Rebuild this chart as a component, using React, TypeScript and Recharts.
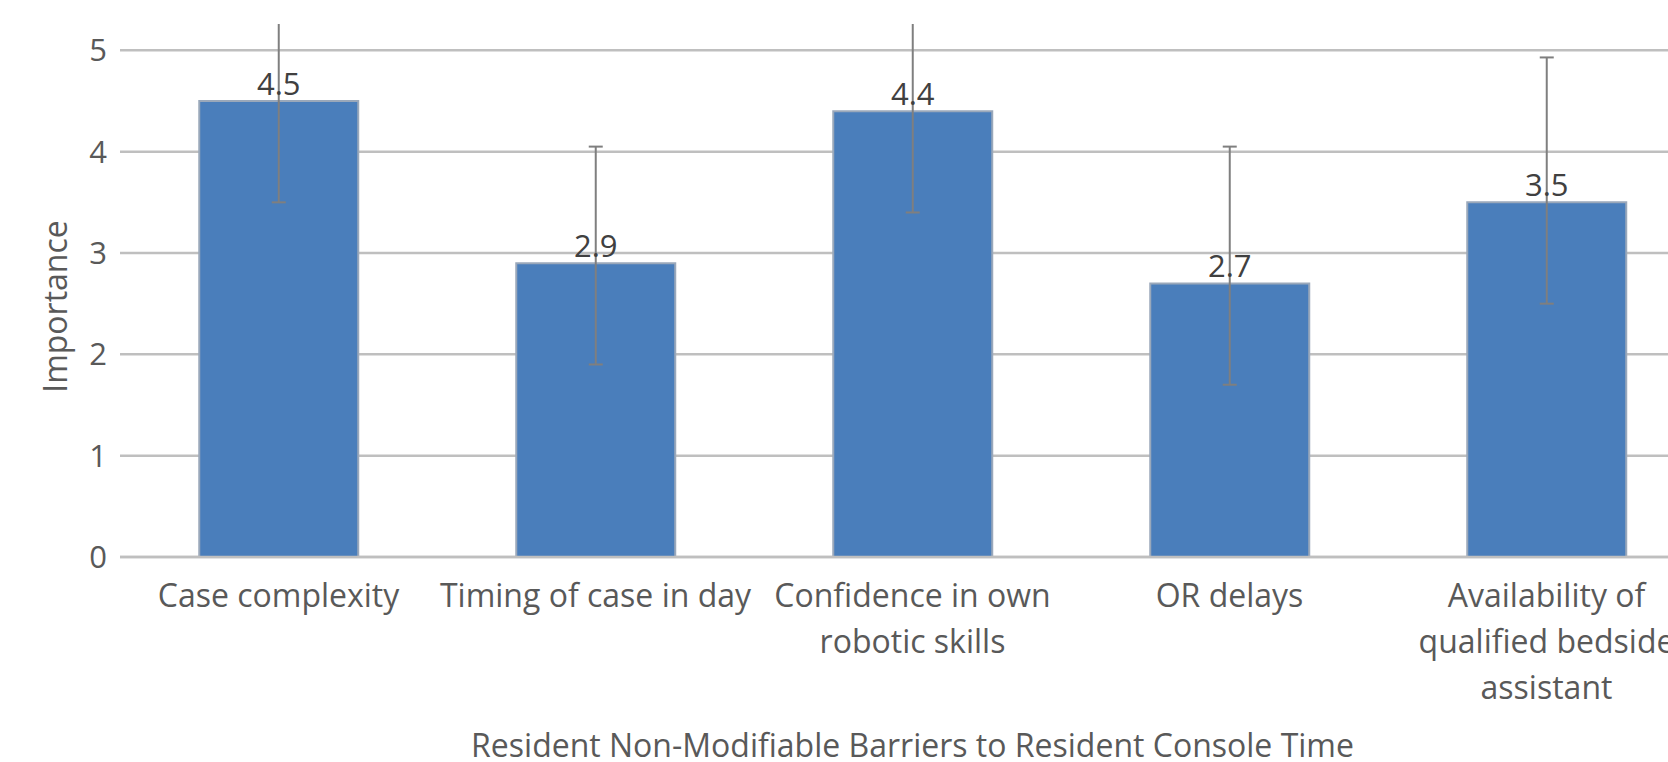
import { BarChart, Bar, XAxis, YAxis, CartesianGrid, ErrorBar, LabelList } from 'recharts'

const categories = [
  'Case complexity',
  'Timing of case in day',
  'Confidence in own robotic skills',
  'OR delays',
  'Availability of qualified bedside assistant',
]
// how each category label breaks into lines under the axis
const tickLines = [
  ['Case complexity'],
  ['Timing of case in day'],
  ['Confidence in own', 'robotic skills'],
  ['OR delays'],
  ['Availability of', 'qualified bedside', 'assistant'],
]
const means = [4.5, 2.9, 4.4, 2.7, 3.5]
const errLow = [1.0, 1.0, 1.0, 1.0, 1.0]
const errHigh = [1.0, 1.15, 1.0, 1.35, 1.43]
const yTicks = [0, 1, 2, 3, 4, 5]

const data = categories.map((name, i) => ({
  name,
  value: means[i],
  err: [errLow[i], errHigh[i]],
}))

const FONT = '"Open Sans", sans-serif'
const TEXT = '#595959'
const SIZE = 32

function CategoryTick(props: any) {
  const { x, y, payload } = props
  const idx = categories.indexOf(payload.value)
  const lines = tickLines[idx] ?? [payload.value]
  return (
    <text x={x} y={y} textAnchor="middle" fill={TEXT} fontSize={SIZE} fontFamily={FONT}>
      {lines.map((l, i) => (
        <tspan key={i} x={x} dy={i === 0 ? 50 : 46}>
          {l}
        </tspan>
      ))}
    </text>
  )
}

function YTitle(props: any) {
  const { viewBox } = props
  const cx = 54
  const cy = viewBox.y + viewBox.height / 2 + 16
  return (
    <text
      x={cx}
      y={cy}
      transform={`rotate(-90, ${cx}, ${cy})`}
      textAnchor="middle"
      dominantBaseline="central"
      fill={TEXT}
      fontSize={SIZE}
      fontFamily={FONT}
    >
      Importance
    </text>
  )
}

export default function App() {
  return (
    <div
      style={{
        position: 'absolute',
        left: 0,
        top: 24,
        width: 1668,
        height: 738,
        overflow: 'hidden',
        background: '#fff',
      }}
    >
      <BarChart
        width={1720}
        height={738}
        data={data}
        margin={{ top: 0, right: 15, left: 0, bottom: 0 }}
        barCategoryGap="25%"
      >
        <CartesianGrid
          vertical={false}
          horizontalValues={yTicks}
          stroke="#bfbfbf"
          strokeWidth={2.5}
        />
        <XAxis
          dataKey="name"
          interval={0}
          height={205}
          tickSize={0}
          tickMargin={0}
          tick={<CategoryTick />}
          axisLine={{ stroke: '#bfbfbf', strokeWidth: 2.5 }}
          tickLine={false}
          label={{
            value: 'Resident Non-Modifiable Barriers to Resident Console Time',
            position: 'insideBottom',
            offset: 5,
            fill: TEXT,
            fontSize: SIZE,
            fontFamily: FONT,
          }}
        />
        <YAxis
          width={120}
          domain={[0, 5.26]}
          allowDataOverflow
          ticks={yTicks}
          interval={0}
          tickSize={0}
          tickMargin={13}
          axisLine={false}
          tickLine={false}
          tick={{ fill: TEXT, fontSize: 31, fontFamily: FONT }}
          label={<YTitle />}
        />
        <Bar
          dataKey="value"
          fill="#4a7ebb"
          stroke="#9aa8ba"
          strokeWidth={2}
          isAnimationActive={false}
        >
          <LabelList
            dataKey="value"
            position="top"
            offset={6}
            fill="#404040"
            fontSize={31}
            fontFamily={FONT}
          />
          <ErrorBar dataKey="err" width={7} stroke="#7f7f7f" strokeWidth={2} direction="y" />
        </Bar>
      </BarChart>
    </div>
  )
}
